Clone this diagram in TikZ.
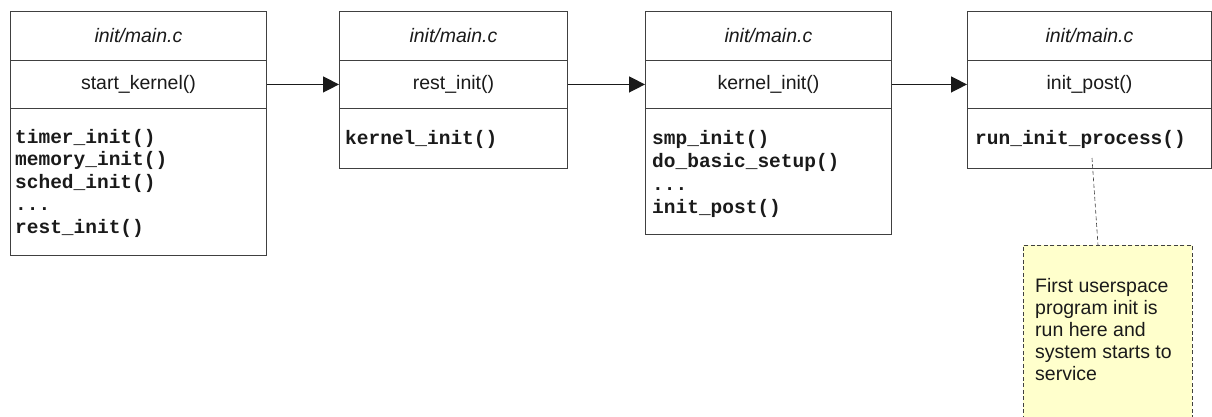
\documentclass[tikz,border=0pt]{standalone}
\usepackage{fontspec}
\setmainfont{Liberation Sans}
\setmonofont{Liberation Mono}
\usetikzlibrary{arrows.meta}
\definecolor{edge}{HTML}{404040}
\definecolor{ink}{HTML}{1A1A1A}
\definecolor{notefill}{HTML}{FFFFCC}
\begin{document}
\begin{tikzpicture}[x=1pt,y=-1pt,
  cell/.style={draw=edge, line width=0.9pt, inner sep=0pt, anchor=north west,
    minimum width=#1, text=ink, font=\fontsize{19.5}{22}\selectfont},
  hdr/.style={font=\fontsize{19.5}{22}\selectfont\itshape},
  code/.style={anchor=base west, inner sep=0pt, text=ink,
    font=\fontsize{19.5}{22}\selectfont\ttfamily\bfseries},
  flow/.style={line width=1.4pt, draw=ink, -{Triangle[length=16pt,width=16pt]}},
  notebox/.style={draw=edge, line width=0.7pt, dash pattern=on 4pt off 2.5pt,
    fill=notefill, anchor=north west, inner sep=0pt},
  notelink/.style={draw=edge, line width=0.6pt, dash pattern=on 4pt off 2.5pt}
]
\clip (0,0) rectangle (1212,417);
\fill[white] (0,0) rectangle (1212,417);

% Box 1
\node[cell=256pt, minimum height=49pt, hdr] (h1) at (10,11) {init/main.c};
\node[cell=256pt, minimum height=48pt] (t1) at (10,60) {start\_kernel()};
\node[cell=256pt, minimum height=147pt] (b1) at (10,108) {};
\node[code] (b1l1) at (15,143) {timer\_init()};
\node[code] (b1l2) at (15,165.5) {memory\_init()};
\node[code] (b1l3) at (15,188) {sched\_init()};
\node[code] (b1l4) at (15,210.5) {...};
\node[code] (b1l5) at (15,233) {rest\_init()};

% Box 2
\node[cell=228pt, minimum height=49pt, hdr] (h2) at (339,11) {init/main.c};
\node[cell=228pt, minimum height=48pt] (t2) at (339,60) {rest\_init()};
\node[cell=228pt, minimum height=60pt] (b2) at (339,108) {};
\node[code] (b2l1) at (345,144) {kernel\_init()};

% Box 3
\node[cell=246pt, minimum height=49pt, hdr] (h3) at (645,11) {init/main.c};
\node[cell=246pt, minimum height=48pt] (t3) at (645,60) {kernel\_init()};
\node[cell=246pt, minimum height=126pt] (b3) at (645,108) {};
\node[code] (b3l1) at (652,144) {smp\_init()};
\node[code] (b3l2) at (652,167) {do\_basic\_setup()};
\node[code] (b3l3) at (652,190) {...};
\node[code] (b3l4) at (652,213) {init\_post()};

% Box 4
\node[cell=244pt, minimum height=49pt, hdr] (h4) at (967,11) {init/main.c};
\node[cell=244pt, minimum height=48pt] (t4) at (967,60) {init\_post()};
\node[cell=244pt, minimum height=60pt] (b4) at (967,108) {};
\node[code] (b4l1) at (975,144) {run\_init\_process()};

% Flow arrows
\draw[flow] (t1.east) -- (t2.west);
\draw[flow] (t2.east) -- (t3.west);
\draw[flow] (t3.east) -- (t4.west);

% Note
\node[notebox, minimum width=169pt, minimum height=200pt] (note) at (1023,245) {};
\node[anchor=north west, inner sep=0pt, align=left, text=ink,
  font=\fontsize{19.5}{22}\selectfont] (notetext) at (1035,278)
  {First userspace\\program init is\\run here and\\system starts to\\service};
\coordinate (linkstart) at (1092,158);
\coordinate (linkend) at (1098,245);
\draw[notelink] (linkstart) -- (linkend);
\end{tikzpicture}
\end{document}
